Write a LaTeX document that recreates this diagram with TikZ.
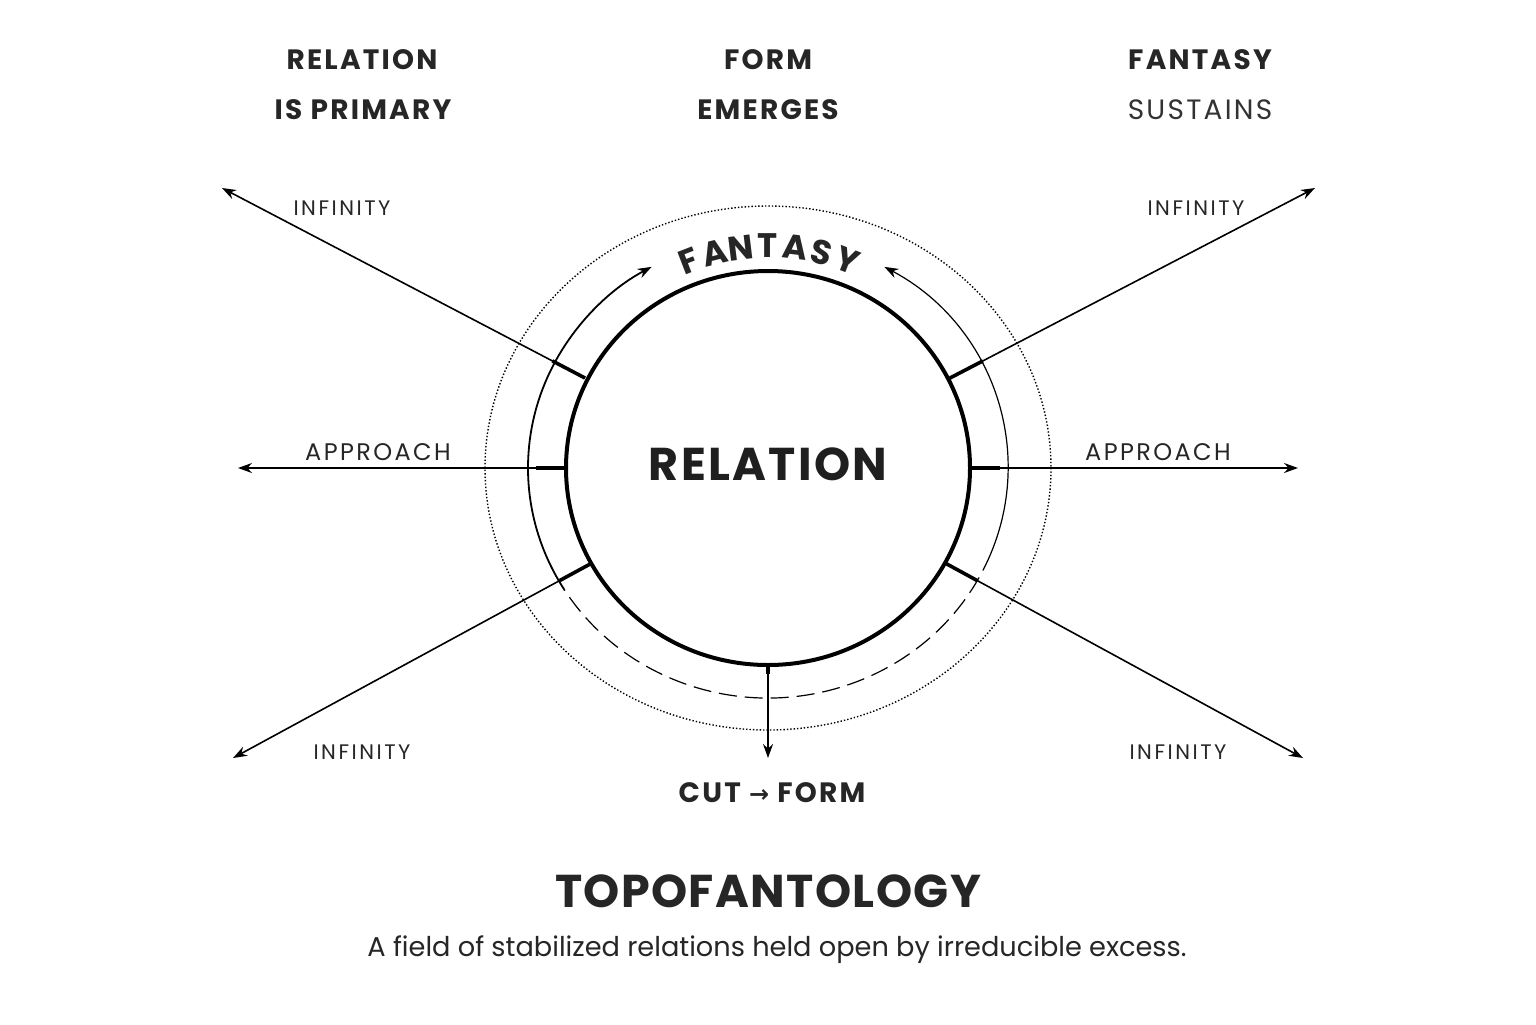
\documentclass[tikz,border=0pt]{standalone}
\usepackage{fontspec}
\setmainfont{Poppins}
\newfontfamily\arrfont{DejaVu Sans}
\usetikzlibrary{arrows.meta,shapes.geometric,calc}
\begin{document}
\begin{tikzpicture}[x=0.5pt,y=-0.5pt,
  ray/.style={line width=0.8pt,-{Stealth[length=7pt,width=5pt]}},
  tick/.style={line width=1.8pt},
  lab/.style={font=\fontsize{10.5}{12}\selectfont\addfontfeature{LetterSpace=12},text=black!85},
  head/.style={font=\fontsize{14}{16}\selectfont\bfseries\addfontfeature{LetterSpace=8},text=black!85},
  arcarrow/.style={-{Stealth[length=7pt,width=5pt]}}]
\useasboundingbox[fill=white] (0,0) rectangle (1536,1024);
% titles
\node[head] (t1a) at (362,60) {RELATION};
\node[head] (t1b) at (363,110) {IS PRIMARY};
\node[head] (t2a) at (768,60) {FORM};
\node[head] (t2b) at (768,110) {EMERGES};
\node[head] (t3a) at (1200,60) {FANTASY};
\node[font=\fontsize{14}{16}\selectfont\addfontfeature{LetterSpace=8},text=black!80] (t3b) at (1200,110) {SUSTAINS};
% outer dotted
\draw[densely dotted,line width=0.7pt] (768,468) ellipse [x radius=283,y radius=262];
% inner arcs
\draw[line width=0.9pt,arcarrow] (768,468) ++(148:240 and 230) arc[start angle=148,end angle=241,x radius=240,y radius=230];
\draw[line width=0.6pt,arcarrow] (768,468) ++(22:240 and 230) arc[start angle=22,end angle=-61,x radius=240,y radius=230];
\draw[dashed,dash pattern=on 9pt off 4pt,line width=0.6pt] (768,468) ++(22:240 and 230) arc[start angle=22,end angle=148,x radius=240,y radius=230];
% main circle
\node[draw,ellipse,line width=2pt,minimum width=202pt,minimum height=197pt,inner sep=0,fill=white] (c) at (768,468) {};
\node[font=\fontsize{23}{26}\selectfont\bfseries\addfontfeature{LetterSpace=5},text=black!88] (rel) at (768,464) {RELATION};
% curved FANTASY
\foreach \ch [count=\i] in {F,A,N,T,A,S,Y}{
  \pgfmathsetmacro\ang{90+21-(\i-1)*7}
  \node[inner sep=0,font=\fontsize{17}{18}\selectfont\bfseries,text=black!85,rotate=\ang-90] (f\i) at ({768+222*cos(\ang)},{468-222*sin(\ang)}) {\ch};
}
% rays
\coordinate (ul0) at (585,378); \coordinate (ul1) at (222,188);
\coordinate (l0) at (566,468); \coordinate (l1) at (238,468);
\coordinate (dl0) at (592,563); \coordinate (dl1) at (233,758);
\coordinate (ur0) at (950,378); \coordinate (ur1) at (1315,188);
\coordinate (r0) at (970,468); \coordinate (r1) at (1298,468);
\coordinate (dr0) at (945,563); \coordinate (dr1) at (1303,758);
\coordinate (b0) at (768,666); \coordinate (b1) at (768,758);
\foreach \a in {ul,l,dl,ur,r,dr,b}{
  \draw[ray] (\a0) -- (\a1);
  \draw[tick] (\a0) -- ($(\a0)!0.09!(\a1)$);
}
% labels
\node[lab] (i1) at (342,208) {INFINITY};
\node[lab] (i2) at (1196,208) {INFINITY};
\node[lab] (i3) at (362,752) {INFINITY};
\node[lab] (i4) at (1178,752) {INFINITY};
\node[font=\fontsize{12}{14}\selectfont\addfontfeature{LetterSpace=10},text=black!85] (a1) at (378,452) {APPROACH};
\node[font=\fontsize{12}{14}\selectfont\addfontfeature{LetterSpace=10},text=black!85] (a2) at (1158,452) {APPROACH};
\node[font=\fontsize{14}{16}\selectfont\bfseries\addfontfeature{LetterSpace=8},text=black!85] (cf) at (772,793) {CUT {\arrfont\fontsize{12}{14}\selectfont →} FORM};
\node[font=\fontsize{23}{26}\selectfont\bfseries\addfontfeature{LetterSpace=3},text=black!85] (topo) at (768,891) {TOPOFANTOLOGY};
\node[font=\fontsize{13.6}{15}\selectfont,text=black!85] (sub) at (777,950) {A field of stabilized relations held open by irreducible excess.};
\end{tikzpicture}
\end{document}
